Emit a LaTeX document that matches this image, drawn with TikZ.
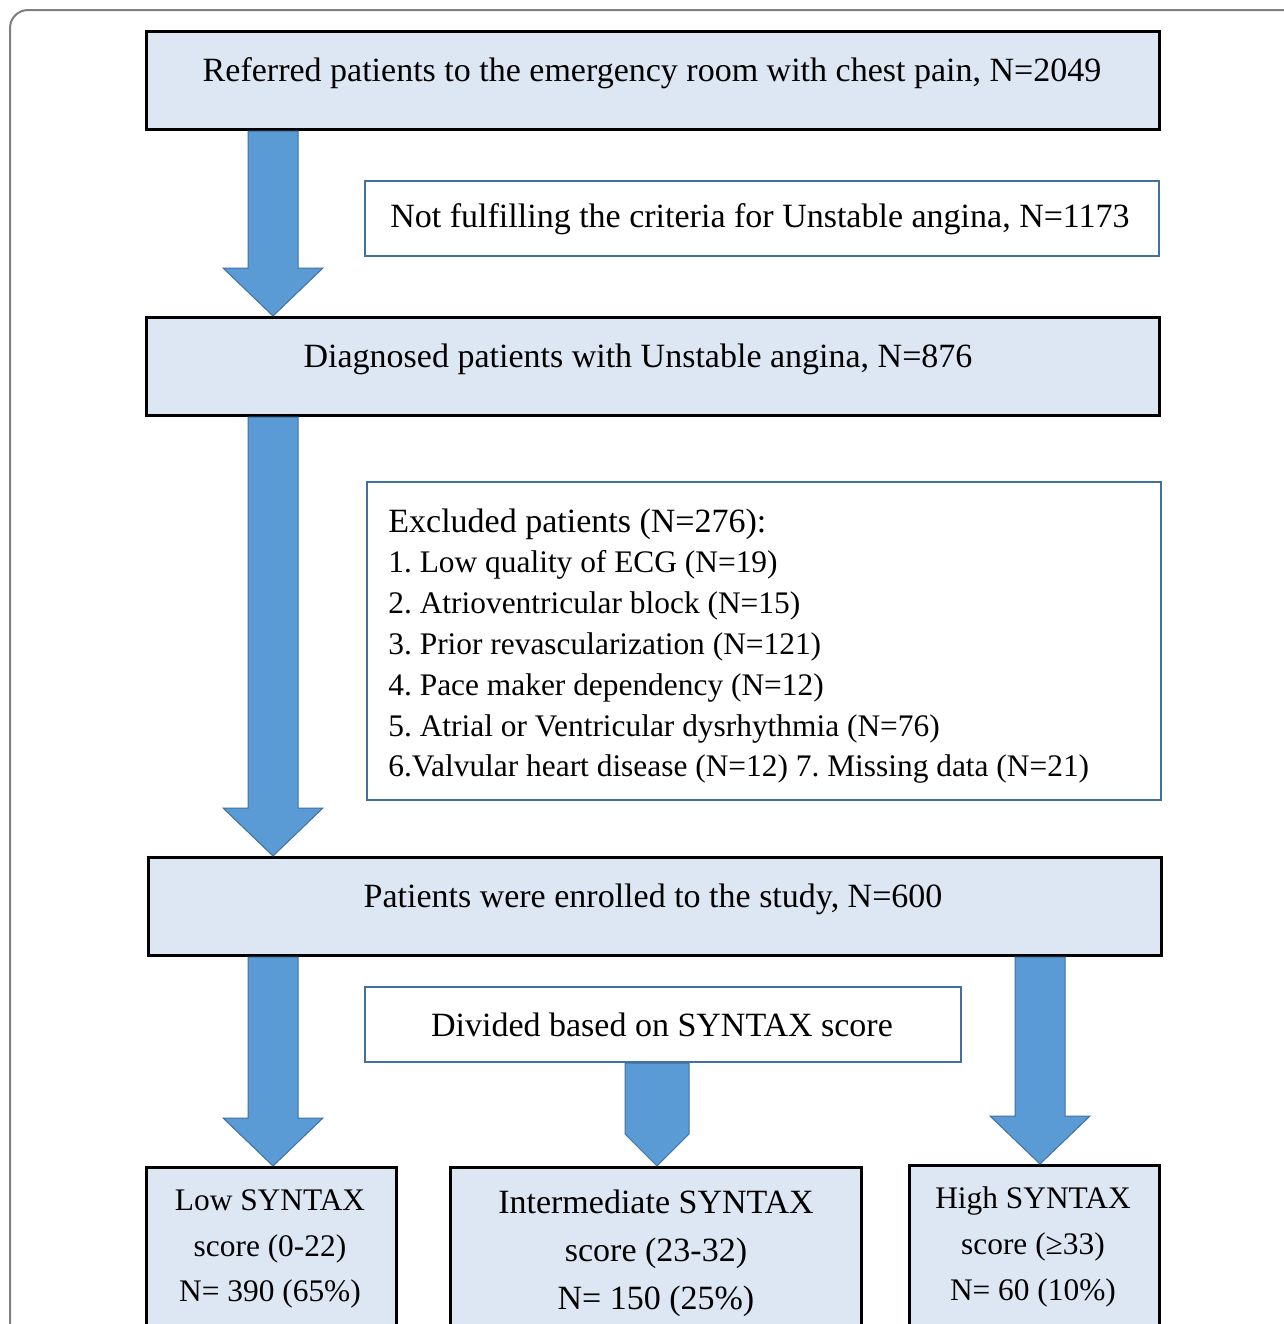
\documentclass[tikz,border=0pt]{standalone}
\usepackage{fontspec}
\setmainfont{Liberation Serif}
\usetikzlibrary{calc}
\definecolor{boxfill}{HTML}{DDE7F3}
\definecolor{arrfill}{HTML}{5B9BD5}
\definecolor{arrline}{HTML}{41719C}
\definecolor{frameg}{HTML}{7F7F7F}
\tikzset{
  mainbox/.style={draw=black, line width=1.5pt, fill=boxfill, anchor=north west, inner sep=0pt},
  bluebox/.style={draw=arrline, line width=1pt, fill=white, anchor=north west, inner sep=0pt},
  txt/.style={font=\fontsize{17}{20.4}\selectfont\frenchspacing, inner sep=0pt},
  smalltxt/.style={font=\fontsize{15.7}{22.8}\selectfont, inner sep=0pt, align=center},
  midtxt/.style={font=\fontsize{17}{24}\selectfont, inner sep=0pt, align=center},
  fatarrow/.style={fill=arrfill, draw=arrline, line width=0.5pt},
}
% block arrow between two points (x taken from the first)
\newcommand\blockarrow[2]{%
  \draw[fatarrow] let \p1=(#1), \p2=(#2) in
    (\x1-12.5pt,\y1) -- (\x1-12.5pt,\y2+24pt) -- (\x1-25pt,\y2+24pt) -- (\x1,\y2)
    -- (\x1+25pt,\y2+24pt) -- (\x1+12.5pt,\y2+24pt) -- (\x1+12.5pt,\y1) -- cycle;}
% pentagon arrow (head as wide as the shaft)
\newcommand\pentarrow[2]{%
  \draw[fatarrow] let \p1=(#1), \p2=(#2) in
    (\x1-16pt,\y1) -- (\x1-16pt,\y2+16pt) -- (\x1,\y2)
    -- (\x1+16pt,\y2+16pt) -- (\x1+16pt,\y1) -- cycle;}
\newcommand\listfont{\fontsize{15.7}{20.35}\selectfont}
\begin{document}
\begin{tikzpicture}[x=0.5pt,y=-0.5pt]
\clip (0,0) rectangle (1284,1324);
\fill[white] (0,0) rectangle (1284,1324);
% outer frame
\draw[frameg, line width=1pt, rounded corners=9pt] (10,1400) -- (10,10) -- (1400,10);

% boxes
\node[mainbox, minimum width=506.5pt, minimum height=49pt] (b1) at (145,30) {};
\node[bluebox, minimum width=397pt, minimum height=37.5pt] (nf) at (364,180) {};
\node[mainbox, minimum width=506.5pt, minimum height=49pt] (b2) at (145,316) {};
\node[bluebox, minimum width=397pt, minimum height=159pt] (ex) at (366,481) {};
\node[mainbox, minimum width=506.5pt, minimum height=49pt] (b3) at (147,856) {};
\node[bluebox, minimum width=298pt, minimum height=37.5pt] (dv) at (364,986) {};
\node[mainbox, minimum width=125pt, minimum height=100pt] (low) at (145,1166) {};
\node[mainbox, minimum width=205.5pt, minimum height=100pt] (mid) at (449,1166) {};
\node[mainbox, minimum width=125pt, minimum height=100pt] (high) at (908,1164) {};

% arrow axes
\coordinate (axL) at (273,0);
\coordinate (axM) at (657,0);
\coordinate (axR) at (1040,0);

% arrows
\blockarrow{b1.south -| axL}{b2.north -| axL}
\blockarrow{b2.south -| axL}{b3.north -| axL}
\blockarrow{b3.south -| axL}{low.north -| axL}
\blockarrow{b3.south -| axR}{high.north -| axR}
\pentarrow{dv.south -| axM}{mid.north -| axM}

% texts
\node[txt] (t1) at (652,73) {Referred patients to the emergency room with chest pain, N=2049};
\node[txt] (tnf) at (760,219) {Not fulfilling the criteria for Unstable angina, N=1173};
\node[txt] (t2) at (638,359) {Diagnosed patients with Unstable angina, N=876};
\node[txt, anchor=west, align=left] (tex) at (388,646) {Excluded patients (N=276):\\
{\listfont 1. Low quality of ECG (N=19)}\\
{\listfont 2. Atrioventricular block (N=15)}\\
{\listfont 3. Prior revascularization (N=121)}\\
{\listfont 4. Pace maker dependency (N=12)}\\
{\listfont 5. Atrial or Ventricular dysrhythmia (N=76)}\\
{\listfont 6.Valvular heart disease (N=12) 7. Missing data (N=21)}};
\node[txt] (t3) at (653,899) {Patients were enrolled to the study, N=600};
\node[txt] (tdv) at (662,1025) {Divided based on SYNTAX score};
\node[smalltxt] (tlow) at (270,1249) {Low SYNTAX\\score (0-22)\\N= 390 (65\%)};
\node[midtxt] (tmid) at (656,1253) {Intermediate SYNTAX\\score (23-32)\\N= 150 (25\%)};
\node[smalltxt] (thigh) at (1033,1247) {High SYNTAX\\score (≥33)\\N= 60 (10\%)};
\end{tikzpicture}
\end{document}
